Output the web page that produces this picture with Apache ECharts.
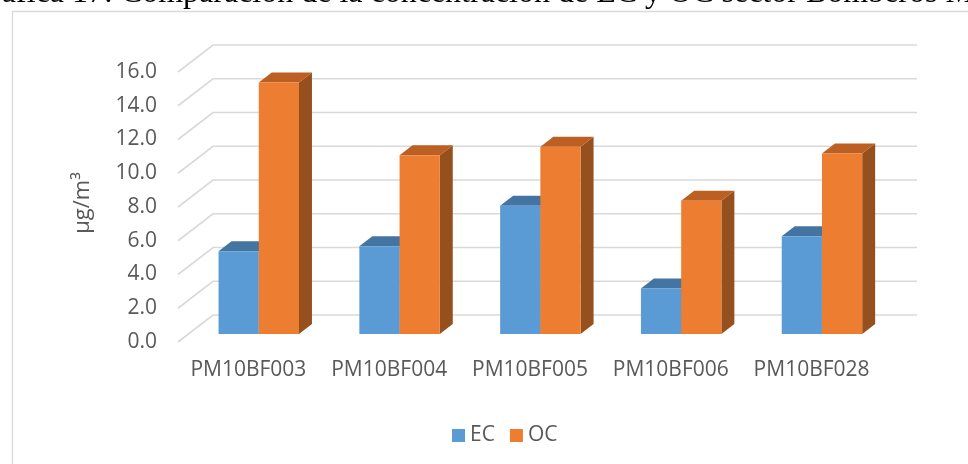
<!DOCTYPE html>
<html><head><meta charset="utf-8">
<script src="https://cdn.jsdelivr.net/npm/echarts@6/dist/echarts.min.js"></script>
<style>html,body{margin:0;padding:0;background:#fff}#c{width:968px;height:464px}</style>
</head><body><div id="c"></div>
<script>
const categories = ['PM10BF003','PM10BF004','PM10BF005','PM10BF006','PM10BF028'];
const ecValues = [4.9, 5.2, 7.6, 2.7, 5.8];
const ocValues = [14.9, 10.6, 11.1, 7.9, 10.7];
const yTicks = [0, 2, 4, 6, 8, 10, 12, 14, 16];
const seriesNames = ['EC', 'OC'];
const titleText = 'Gráfica 17: Comparación de la concentración de EC y OC sector Bomberos Municipales';

const DX = 35, DY = 27;           // depth of the 3D box in pixels
const F0 = 8 / 27, F1 = 18 / 27;  // bar front / back depth fractions
const FONT = 'Open Sans';

const colors = {
  EC: {front: '#5B9BD5', top: '#4474A1', side: '#3E6A93'},
  OC: {front: '#ED7D31', top: '#BC5F22', side: '#96501D'}
};

const chart = echarts.init(document.getElementById('c'), null, {renderer: 'canvas'});

function gridRender(params, api) {
  const cs = params.coordSys;
  const p = api.coord([0, api.value(1)]);
  const y = p[1];
  return {
    type: 'polyline',
    shape: {points: [[cs.x, y], [cs.x + DX, y - DY], [cs.x + cs.width + DX, y - DY]]},
    style: {stroke: '#D9D9D9', lineWidth: 1.6, fill: null},
    silent: true
  };
}

function barRender(which) {
  return function (params, api) {
    const i = api.value(0), v = api.value(1);
    const base = api.coord([i, 0]);
    const top = api.coord([i, v]);
    const band = api.size([1, 0])[0];
    const bw = band / 3.5;
    const ox = DX * F0, oy = DY * F0;
    const sx = DX * (F1 - F0), sy = DY * (F1 - F0);
    const x0 = (which === 'EC' ? base[0] - bw : base[0]) + ox;
    const ty = top[1] - oy, by = base[1] - oy;
    const c = colors[which];
    return {
      type: 'group',
      children: [
        {type: 'polygon', shape: {points: [[x0 + bw, ty], [x0 + bw + sx, ty - sy], [x0 + bw + sx, by - sy], [x0 + bw, by]]}, style: {fill: c.side}},
        {type: 'polygon', shape: {points: [[x0, ty], [x0 + bw, ty], [x0 + bw + sx, ty - sy], [x0 + sx, ty - sy]]}, style: {fill: c.top}},
        {type: 'rect', shape: {x: x0, y: ty, width: bw, height: by - ty}, style: {fill: c.front}}
      ]
    };
  };
}

const option = {
  backgroundColor: '#ffffff',
  animation: false,
  graphic: [
    {type: 'rect', left: 10, top: 9, shape: {width: 1000, height: 500}, style: {fill: 'none', stroke: '#D9D9D9', lineWidth: 1.3}, z: -1},
    {type: 'text', left: -32, top: -22, style: {text: titleText, font: '32px "Liberation Serif"', fill: '#000000'}}
  ],
  legend: {
    data: seriesNames, left: 447, top: 420, icon: 'rect', itemWidth: 13, itemHeight: 13, itemGap: 15,
    textStyle: {color: '#595959', fontSize: 21, fontFamily: FONT}
  },
  grid: {left: 178, right: 86, top: 72, bottom: 122},
  xAxis: {
    type: 'category', data: categories,
    axisLine: {show: false}, axisTick: {show: false},
    axisLabel: {color: '#595959', fontSize: 21, fontFamily: FONT, margin: 18, interval: 0}
  },
  yAxis: {
    type: 'value', min: 0, max: 16, interval: 2,
    name: 'µg/m³', nameLocation: 'middle', nameGap: 84, nameRotate: 90,
    nameTextStyle: {color: '#595959', fontSize: 22, fontFamily: FONT, padding: [0, 0, 0, 8]},
    axisLine: {show: false}, axisTick: {show: false}, splitLine: {show: false},
    axisLabel: {color: '#595959', fontSize: 21, fontFamily: FONT, margin: 21, padding: [3, 0, 0, 0], formatter: v => v.toFixed(1)}
  },
  series: [
    {type: 'custom', name: 'grid', renderItem: gridRender, data: yTicks.map(v => [0, v]), z: 1, silent: true},
    {type: 'custom', name: 'EC', renderItem: barRender('EC'), data: ecValues.map((v, i) => [i, v]), itemStyle: {color: colors.EC.front}, z: 2},
    {type: 'custom', name: 'OC', renderItem: barRender('OC'), data: ocValues.map((v, i) => [i, v]), itemStyle: {color: colors.OC.front}, z: 3}
  ]
};
chart.setOption(option);
</script></body></html>
